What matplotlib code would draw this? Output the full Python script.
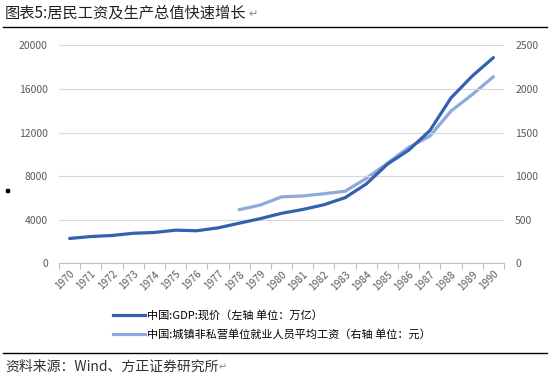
import matplotlib
matplotlib.use("Agg")
import matplotlib.pyplot as plt
from matplotlib.lines import Line2D
from matplotlib.patches import Rectangle
import numpy as np

plt.rcParams['font.family'] = ['Noto Sans CJK SC', 'DejaVu Sans']

years = [str(y) for y in range(1970, 1991)]
gdp = [2279.7, 2456.9, 2552.4, 2756.2, 2827.7, 3039.5, 2988.6, 3250.0, 3678.7,
       4100.5, 4587.6, 4935.8, 5373.4, 6020.9, 7278.5, 9098.9, 10376.2, 12174.6,
       15180.4, 17179.7, 18872.9]
wage_years = [str(y) for y in range(1978, 1991)]
wage = [615, 668, 762, 772, 798, 826, 974, 1148, 1329, 1459, 1747, 1935, 2140]

left_ticks = [0, 4000, 8000, 12000, 16000, 20000]
right_ticks = [0, 500, 1000, 1500, 2000, 2500]

label_gdp = "中国:GDP:现价（左轴 单位：万亿）"
label_wage = "中国:城镇非私营单位就业人员平均工资（右轴 单位：元）"
title = "图表5:居民工资及生产总值快速增长"
source = "资料来源：Wind、方正证券研究所"

c_dark = '#3261AE'
c_light = '#8EA9DB'
gray = '#595959'

fig = plt.figure(figsize=(5.5, 3.83), dpi=100)
ax = fig.add_axes([0.1073, 0.3125, 0.8091, 0.5692])
ax2 = ax.twinx()

x = np.arange(len(years))
xw = np.array([years.index(y) for y in wage_years])
ax.plot(x, gdp, color=c_dark, lw=2.3, solid_capstyle='round', zorder=3)
ax2.plot(xw, wage, color=c_light, lw=2.3, solid_capstyle='round', zorder=2)

ax.set_xlim(-0.5, len(years) - 0.5)
ax.set_ylim(0, 20000)
ax2.set_ylim(0, 2500)
ax.set_yticks(left_ticks)
ax2.set_yticks(right_ticks)
ax.set_yticklabels([str(t) for t in left_ticks])
ax2.set_yticklabels([str(t) for t in right_ticks])

ax.set_xticks(x)
ax.set_xticklabels(years, rotation=45, ha='right', rotation_mode='anchor')
ax.set_xticks(np.arange(-0.5, len(years), 1), minor=True)

for a in (ax, ax2):
    for s in a.spines.values():
        s.set_visible(False)
    a.tick_params(axis='y', length=0, labelsize=7.5, labelcolor=gray, pad=8)
ax.spines['bottom'].set_visible(True)
ax.spines['bottom'].set_color('#BFBFBF')
ax.spines['bottom'].set_linewidth(0.8)
ax.tick_params(axis='x', which='major', length=0, labelsize=7.3, labelcolor=gray, pad=4)
ax.tick_params(axis='x', which='minor', length=4, color='#BFBFBF', width=0.8)
ax.grid(axis='y', color='#D9D9D9', lw=0.8)
ax.set_axisbelow(True)
ax.set_zorder(ax2.get_zorder() + 1)
ax.patch.set_visible(False)

handles = [Line2D([0], [0], color=c_dark, lw=2.3),
           Line2D([0], [0], color=c_light, lw=2.3)]
leg = fig.legend(handles, [label_gdp, label_wage], loc='upper left',
                 bbox_to_anchor=(0.205, 0.19), frameon=False, fontsize=8,
                 handlelength=2.9, handletextpad=0.15, labelspacing=0.7,
                 borderpad=0, borderaxespad=0)
for t in leg.get_texts():
    t.set_color('black')

fig.text(0.009, 0.965, title, fontsize=11, va='center', ha='left', color='#222222')
fig.text(0.452, 0.962, "↵", fontsize=8, va='center', ha='left', color='#888888',
         family=['DejaVu Sans'])
fig.add_artist(Line2D([0.005, 0.995], [0.929, 0.929], color='black', lw=1.0))
fig.add_artist(Line2D([0.005, 0.995], [0.078, 0.078], color='black', lw=1.0))
fig.text(0.009, 0.042, source, fontsize=10, va='center', ha='left',
         style='italic', color='#333333')
fig.text(0.398, 0.04, "↵", fontsize=7, va='center', ha='left', color='#888888',
         family=['DejaVu Sans'])
fig.add_artist(Rectangle((0.0105, 0.498), 0.0055, 0.0078, color='black',
                         transform=fig.transFigure))

fig.savefig("out.png", dpi=100)
